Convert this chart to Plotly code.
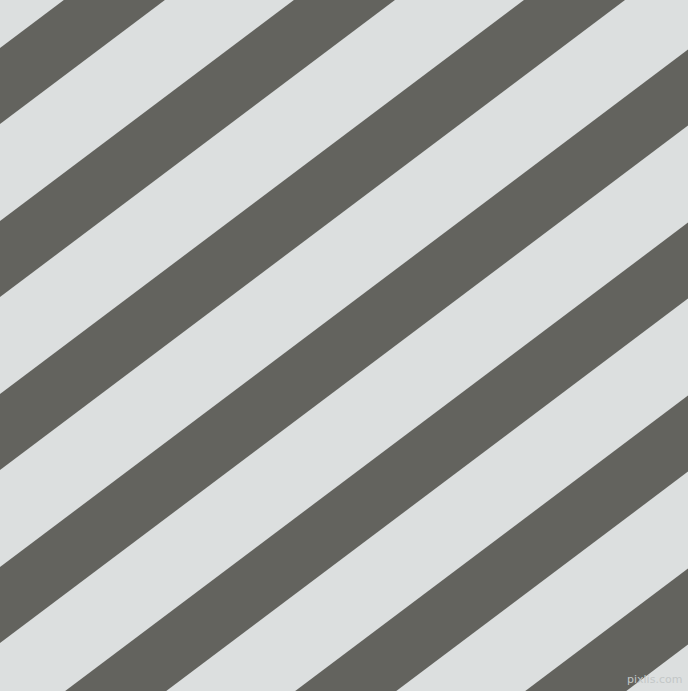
import plotly.graph_objects as go

W, H = 688, 691

# upper edge of each dark band where it meets the left border (px from top)
band_starts = [48, 221, 394, 567, 740, 913, 1086]
band_height = 76          # vertical thickness of a dark band
slope = 0.752             # rise per px going right

dark = "#63635e"
light = "#dcdfdf"

fig = go.Figure()

for b in band_starts:
    xs = [0, W, W, 0, 0]
    ys = [b, b - slope * W, b + band_height - slope * W, b + band_height, b]
    fig.add_trace(go.Scatter(x=xs, y=ys, mode="lines", fill="toself",
                             fillcolor=dark, line=dict(width=0, color=dark),
                             hoverinfo="skip", showlegend=False))

fig.add_annotation(text="pixlis.com", x=W - 4, y=H - 3, xref="x", yref="y",
                   xanchor="right", yanchor="bottom", showarrow=False,
                   font=dict(family="DejaVu Sans", size=11, color="#c3c7c7"))

fig.update_xaxes(range=[0, W], visible=False, fixedrange=True)
fig.update_yaxes(range=[H, 0], visible=False, fixedrange=True)
fig.update_layout(width=W, height=H, margin=dict(l=0, r=0, t=0, b=0),
                  plot_bgcolor=light, paper_bgcolor=light)

# drop the browser's default body margin so the chart sits at the corner
fig.write_html("out.html", config={"displayModeBar": False},
               post_script="document.body.style.margin='0';"
                           "document.body.style.overflow='hidden';")
